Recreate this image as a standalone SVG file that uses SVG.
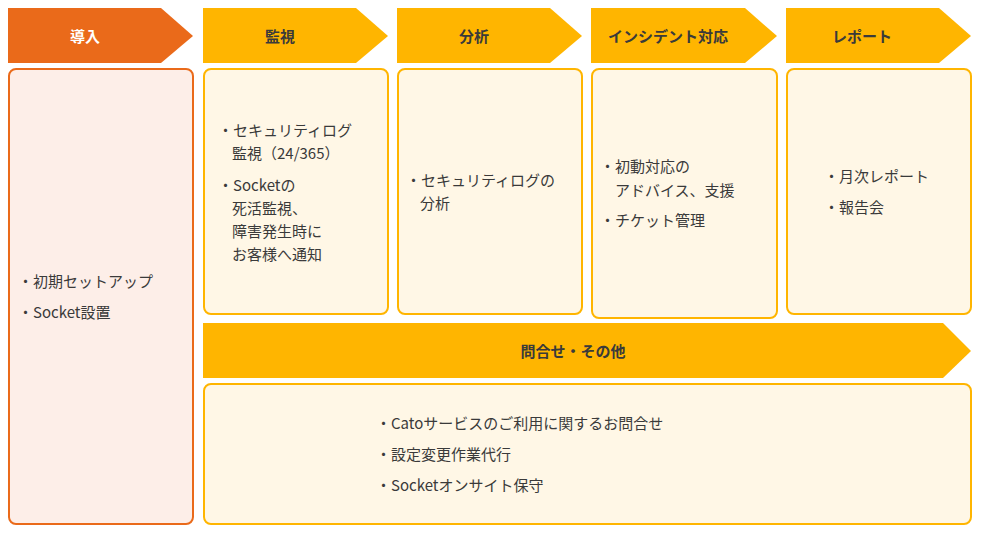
<svg xmlns="http://www.w3.org/2000/svg" width="981" height="533" viewBox="0 0 981 533">
<style>
text{font-family:"Noto Sans CJK JP","Noto Sans",sans-serif;fill:#3a3a3a;font-size:15px}
.h{font-weight:bold;font-size:15px;text-anchor:middle}
.y{fill:#FFB500}
.o{fill:#EA6A1A}
.by{fill:#FFF7E6;stroke:#FFB500;stroke-width:2}
.bo{fill:#FDEEE8;stroke:#EA6A1A;stroke-width:2}
</style>
<rect width="981" height="533" fill="#fff"/>
<g id="intro">
<polygon class="o" points="8,8 161,8 193,36 161,63 8,63"/>
<text class="h" x="85" y="42" style="fill:#fff">導入</text>
<rect class="bo" x="9" y="69" width="184" height="455" rx="7"/>
<text x="18" y="287">・初期セットアップ</text>
<text x="18" y="318">・Socket設置</text>
</g>
<g id="monitor">
<polygon class="y" points="203,8 356,8 388,36 356,63 203,63"/>
<text class="h" x="280" y="42">監視</text>
<rect class="by" x="204" y="69" width="184" height="245" rx="7"/>
<text x="218" y="136">・セキュリティログ</text>
<text x="232" y="159">監視（24/365）</text>
<text x="218" y="191">・Socketの</text>
<text x="232" y="214">死活監視、</text>
<text x="232" y="237">障害発生時に</text>
<text x="232" y="260">お客様へ通知</text>
</g>
<g id="analysis">
<polygon class="y" points="397,8 550,8 582,36 550,63 397,63"/>
<text class="h" x="474" y="42">分析</text>
<rect class="by" x="398" y="69" width="184" height="245" rx="7"/>
<text x="406" y="186">・セキュリティログの</text>
<text x="420" y="209">分析</text>
</g>
<g id="incident">
<polygon class="y" points="591,8 745,8 777,36 745,63 591,63"/>
<text class="h" x="668" y="42">インシデント対応</text>
<rect class="by" x="592" y="69" width="185" height="249" rx="7"/>
<text x="600" y="172">・初動対応の</text>
<text x="615" y="196">アドバイス、支援</text>
<text x="600" y="226">・チケット管理</text>
</g>
<g id="report">
<polygon class="y" points="786,8 939,8 971,36 939,63 786,63"/>
<text class="h" x="862" y="42">レポート</text>
<rect class="by" x="787" y="69" width="184" height="245" rx="7"/>
<text x="824" y="182">・月次レポート</text>
<text x="824" y="213">・報告会</text>
</g>
<g id="other">
<polygon class="y" points="203,323 943,323 971,351 943,378 203,378"/>
<text class="h" x="573" y="357">問合せ・その他</text>
<rect class="by" x="204" y="384" width="767" height="140" rx="7"/>
<text x="376" y="429">・Catoサービスのご利用に関するお問合せ</text>
<text x="376" y="460">・設定変更作業代行</text>
<text x="376" y="491">・Socketオンサイト保守</text>
</g>
<g id="connectors"/>
</svg>
